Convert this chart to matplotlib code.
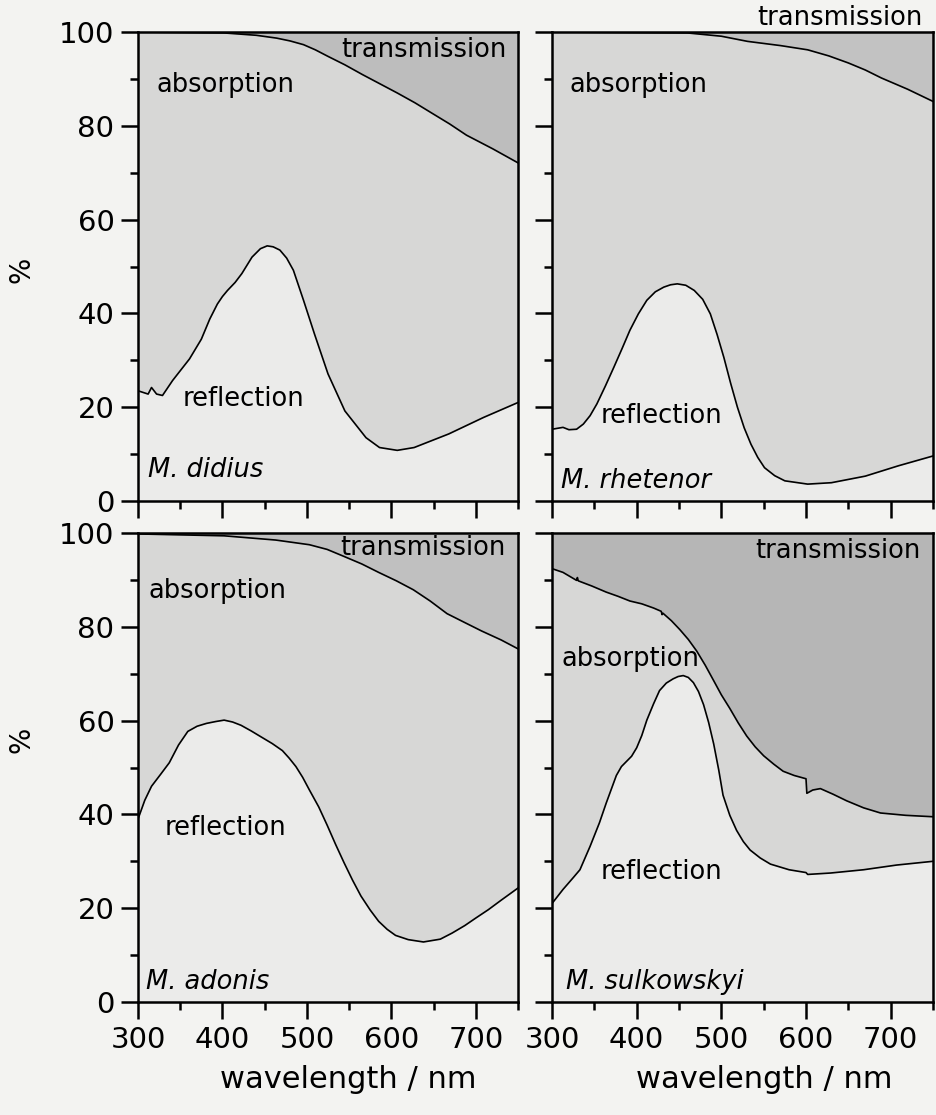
import numpy as np
import matplotlib
matplotlib.use('Agg')
import matplotlib.pyplot as plt
from matplotlib.ticker import MultipleLocator

# M. didius
didius_refl_nm = [300, 312, 316, 322, 329, 341, 361, 375, 385, 394, 400, 406, 415, 423, 435, 445, 453, 460, 468,
                  476, 484, 496, 509, 525, 545, 570, 586, 607, 627, 668, 709, 750]
didius_refl = [23.5, 22.8, 24.2, 22.8, 22.5, 25.7, 30.3, 34.5, 38.8, 42.0, 43.6, 44.9, 46.6, 48.5, 52.0, 53.8, 54.4, 54.2, 53.5,
               51.8, 49.2, 42.8, 35.6, 27.1, 19.2, 13.5, 11.4, 10.8, 11.4, 14.3, 17.8, 21.0]
didius_top_nm = [300, 402, 440, 464, 480, 496, 510, 525, 545, 566, 586, 607, 628, 648, 669, 689, 720, 750]
didius_top = [100.0, 99.8, 99.3, 98.7, 98.1, 97.3, 96.2, 94.8, 93.0, 90.9, 89.0, 87.0, 84.9, 82.7, 80.4, 78.0, 75.1, 72.1]

# M. rhetenor
rhetenor_refl_nm = [300, 313, 320, 329, 337, 345, 353, 363, 373, 383, 392, 402, 412, 422, 432, 440, 448, 458, 468, 478, 487, 495,
                    503, 511, 519, 527, 535, 543, 551, 563, 575, 602, 630, 670, 709, 750]
rhetenor_refl = [15.3, 15.7, 15.2, 15.3, 16.4, 18.2, 20.7, 24.5, 28.5, 32.6, 36.4, 39.9, 42.8, 44.6, 45.6, 46.1, 46.3, 46.0, 44.9, 43.0, 39.9, 35.5,
                 30.6, 25.1, 20.0, 15.6, 12.1, 9.3, 7.1, 5.4, 4.3, 3.6, 3.9, 5.3, 7.5, 9.6]
rhetenor_top_nm = [300, 460, 500, 531, 570, 602, 627, 650, 670, 689, 720, 750]
rhetenor_top = [100.0, 99.8, 99.1, 98.0, 97.1, 96.2, 94.9, 93.4, 91.9, 90.2, 87.8, 85.2]

# M. adonis
adonis_refl_nm = [300, 308, 316, 327, 337, 348, 359, 370, 381, 392, 402, 412, 422, 434, 446, 459, 471, 479, 487, 495, 503, 514, 524, 534, 544,
                  554, 564, 575, 585, 595, 605, 620, 638, 658, 672, 687, 700, 715, 730, 750]
adonis_refl = [39.0, 43.0, 46.0, 48.6, 51.0, 54.8, 57.7, 58.8, 59.4, 59.8, 60.1, 59.7, 59.0, 57.8, 56.5, 55.1, 53.6, 52.0, 50.2, 47.9, 45.2, 41.6, 37.7, 33.6, 29.7,
               26.0, 22.6, 19.6, 17.2, 15.5, 14.2, 13.3, 12.8, 13.4, 14.7, 16.3, 17.9, 19.7, 21.7, 24.3]
adonis_top_nm = [300, 402, 463, 503, 524, 544, 565, 585, 606, 626, 646, 666, 687, 707, 730, 750]
adonis_top = [99.8, 99.4, 98.5, 97.5, 96.5, 95.0, 93.4, 91.6, 89.8, 87.9, 85.5, 82.8, 80.9, 79.1, 77.2, 75.3]

# M. sulkowskyi
sulk_refl_nm = [300, 313, 325, 333, 345, 356, 364, 376, 382, 388, 394, 400, 406, 412, 420, 427, 435, 443, 449, 455, 461, 467, 473, 479,
                485, 491, 497, 502, 510, 518, 526, 534, 546, 558, 580, 600, 602, 629, 668, 707, 750]
sulk_refl = [21.0, 24.0, 26.5, 28.2, 33.2, 38.2, 42.4, 48.3, 50.2, 51.3, 52.4, 54.2, 56.8, 60.1, 63.6, 66.4, 68.0, 68.9, 69.4, 69.6, 69.2, 68.1, 66.2, 63.4,
             59.6, 55.0, 49.4, 44.1, 39.8, 36.6, 34.2, 32.4, 30.7, 29.4, 28.2, 27.6, 27.2, 27.5, 28.2, 29.2, 30.0]
sulk_top_nm = [300, 313, 329, 330, 331, 347, 364, 378, 392, 406, 420, 429, 430, 431, 441, 451, 461, 471, 481, 491, 500, 510, 520, 530,
               540, 550, 562, 573, 586, 600, 601, 608, 617, 632, 648, 668, 688, 718, 750]
sulk_top = [92.4, 91.6, 89.9, 90.5, 89.8, 88.7, 87.4, 86.5, 85.5, 84.9, 84.0, 83.3, 82.6, 82.9, 81.3, 79.4, 77.3, 74.8, 71.8, 68.5, 65.5, 62.6, 59.5, 56.7,
            54.4, 52.5, 50.7, 49.2, 48.3, 47.6, 44.5, 45.2, 45.5, 44.3, 42.9, 41.4, 40.3, 39.8, 39.5]

panels = [
    ("M. didius", didius_refl_nm, didius_refl, didius_top_nm, didius_top),
    ("M. rhetenor", rhetenor_refl_nm, rhetenor_refl, rhetenor_top_nm, rhetenor_top),
    ("M. adonis", adonis_refl_nm, adonis_refl, adonis_top_nm, adonis_top),
    ("M. sulkowskyi", sulk_refl_nm, sulk_refl, sulk_top_nm, sulk_top),
]

# label positions (nm, %) : transmission, absorption, reflection, species
label_pos = [
    [(541, 96.2), (322, 88.7), (353, 21.7), (312, 6.6)],
    [(543, 103.0), (321, 88.7), (357, 18.2), (311, 4.3)],
    [(540, 96.7), (312, 87.7), (331, 37.0), (310, 4.2)],
    [(540, 96.2), (311, 73.1), (358, 27.7), (317, 4.2)],
]

W, H = 937, 1115
fig = plt.figure(figsize=(W / 100, H / 100), dpi=100, facecolor='#f3f3f1')

boxes = [(138, 32, 380), (552, 32, 381), (138, 533, 380), (552, 533, 381)]
c_refl = '#ebebea'
c_abs = '#d7d7d6'
c_trans = ['#bdbdbd', '#c2c2c2', '#c0c0c0', '#b6b6b6']
fs = 18.5

for i, (name, rnm, rv, tnm, tv) in enumerate(panels):
    x0, y0, w = boxes[i]
    ax = fig.add_axes([x0 / W, 1 - (y0 + 469) / H, w / W, 469 / H])
    ax.set_xlim(300, 750)
    ax.set_ylim(0, 100)
    ax.set_facecolor(c_trans[i])
    ax.fill_between(tnm, 0, tv, color=c_abs, lw=0)
    ax.fill_between(rnm, 0, rv, color=c_refl, lw=0)
    ax.plot(tnm, tv, color='black', lw=1.2)
    ax.plot(rnm, rv, color='black', lw=1.2)

    for s in ax.spines.values():
        s.set_linewidth(1.8)
    ax.xaxis.set_major_locator(MultipleLocator(100))
    ax.xaxis.set_minor_locator(MultipleLocator(50))
    ax.yaxis.set_major_locator(MultipleLocator(20))
    ax.yaxis.set_minor_locator(MultipleLocator(10))
    ax.tick_params(which='major', direction='out', length=12, width=1.8, labelsize=21, pad=5)
    ax.tick_params(which='minor', direction='out', length=6, width=1.8)
    if i % 2 == 1:
        ax.tick_params(axis='y', labelleft=False)
    if i < 2:
        ax.tick_params(axis='x', labelbottom=False)

    (tx, ty), (ax_, ay), (rx, ry), (sx, sy) = label_pos[i]
    ax.text(tx, ty, "transmission", fontsize=fs, va='center', ha='left', clip_on=False)
    ax.text(ax_, ay, "absorption", fontsize=fs, va='center', ha='left')
    ax.text(rx, ry, "reflection", fontsize=fs, va='center', ha='left')
    ax.text(sx, sy, name, fontsize=fs, style='italic', va='center', ha='left')

fig.text(22 / W, 1 - 270 / H, "%", fontsize=20, rotation=90, ha='center', va='center')
fig.text(22 / W, 1 - 740 / H, "%", fontsize=20, rotation=90, ha='center', va='center')
fig.text(348 / W, 1 - 1080 / H, "wavelength / nm", fontsize=22, ha='center', va='center')
fig.text(764 / W, 1 - 1080 / H, "wavelength / nm", fontsize=22, ha='center', va='center')

fig.savefig('out.png', dpi=100, facecolor=fig.get_facecolor())
